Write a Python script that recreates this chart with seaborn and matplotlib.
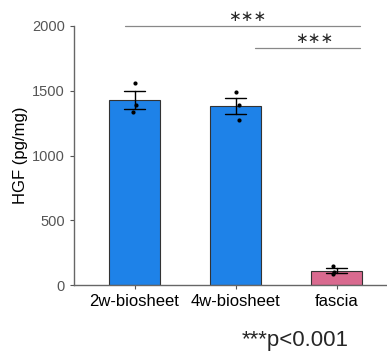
import numpy as np
import pandas as pd
import matplotlib
matplotlib.use("Agg")
import matplotlib.pyplot as plt
import seaborn as sns

# HGF values (pg/mg), 3 samples per group
groups = ["2w-biosheet", "4w-biosheet", "fascia"]
hgf_2w = [1560, 1390, 1336]
hgf_4w = [1490, 1390, 1274]
hgf_fascia = [147, 100, 85]
bar_colors = ["#1E82E8", "#1E82E8", "#D96A8F"]

df = pd.DataFrame({
    "group": [groups[0]] * 3 + [groups[1]] * 3 + [groups[2]] * 3,
    "hgf": hgf_2w + hgf_4w + hgf_fascia,
})

sns.set_style("ticks")
plt.rcParams["font.family"] = ["Liberation Sans", "DejaVu Sans"]

fig = plt.figure(figsize=(3.87, 3.56), dpi=100)
ax = fig.add_axes([0.191, 0.199, 0.809, 0.728])

sns.barplot(data=df, x="group", y="hgf", hue="group", palette=bar_colors,
            order=groups, width=0.5, errorbar="se", capsize=0.2,
            saturation=1, err_kws={"color": "black", "linewidth": 1},
            edgecolor="#333333", linewidth=0.8, legend=False, ax=ax)
np.random.seed(3)
sns.stripplot(data=df, x="group", y="hgf", order=groups, color="black",
              size=3, jitter=0.04, ax=ax)

ax.set_xlim(-0.6, 2.5)
ax.set_ylim(0, 2000)
ax.set_yticks([0, 500, 1000, 1500, 2000])
ax.set_xlabel("")
ax.set_ylabel("HGF (pg/mg)", fontsize=12, color="black", labelpad=3)
ax.tick_params(axis="y", labelsize=10.5, labelcolor="#555555", color="#555555", length=3)
ax.tick_params(axis="x", labelsize=12, labelcolor="black", color="#555555", length=3)
for s in ["top", "right"]:
    ax.spines[s].set_visible(False)
for s in ["left", "bottom"]:
    ax.spines[s].set_color("#666666")
    ax.spines[s].set_linewidth(1)

# significance brackets
ax.plot([-0.09, 2.23], [2000, 2000], color="#888888", lw=0.9, clip_on=False)
ax.plot([1.19, 2.23], [1830, 1830], color="#888888", lw=0.9, clip_on=False)
ax.text(1.12, 2015, "\u2217\u2217\u2217", ha="center", va="bottom", fontsize=11,
        family="DejaVu Sans", clip_on=False)
ax.text(1.78, 1845, "\u2217\u2217\u2217", ha="center", va="bottom", fontsize=11,
        family="DejaVu Sans", clip_on=False)

fig.text(0.625, 0.028, "***p<0.001", fontsize=16, ha="left", va="baseline")

fig.savefig("out.png", dpi=100)
